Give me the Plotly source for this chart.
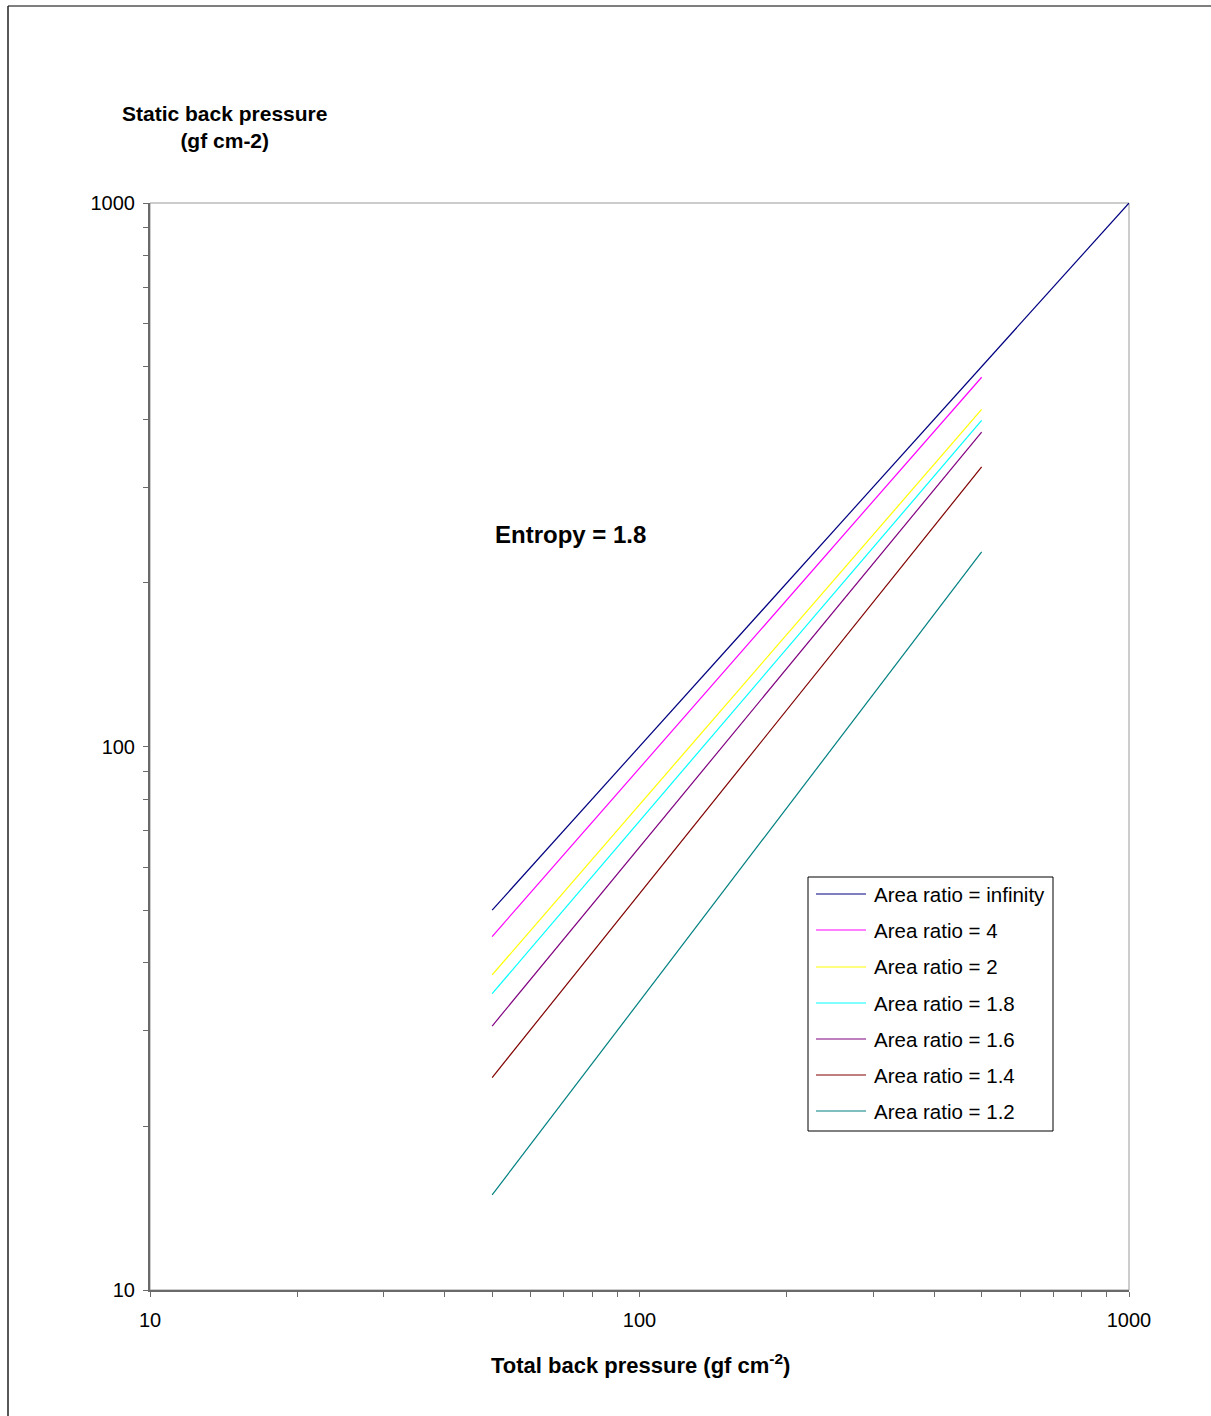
import plotly.graph_objects as go

# Data (log-log)
names = ["Area ratio = infinity", "Area ratio = 4", "Area ratio = 2", "Area ratio = 1.8",
         "Area ratio = 1.6", "Area ratio = 1.4", "Area ratio = 1.2"]
colors = ["#000080", "#FF00FF", "#FFFF00", "#00FFFF", "#800080", "#800000", "#008080"]
x_inf = [50, 1000]
y_inf = [50, 1000]
x_other = [50, 500]
y_4 = [44.7, 478]
y_2 = [38.0, 417]
y_18 = [35.1, 398]
y_16 = [30.6, 379]
y_14 = [24.6, 327]
y_12 = [14.96, 228]

xs = [x_inf, x_other, x_other, x_other, x_other, x_other, x_other]
ys = [y_inf, y_4, y_2, y_18, y_16, y_14, y_12]

tick_vals = [10, 20, 30, 40, 50, 60, 70, 80, 90, 100, 200, 300, 400, 500, 600, 700, 800, 900, 1000]
tick_text = ["10" if v == 10 else "100" if v == 100 else "1000" if v == 1000 else "" for v in tick_vals]

FONT = "Liberation Sans, Arial, sans-serif"
W, H = 1211, 1416
L, R, T, B = 150, 82, 203, 126
PW, PH = W - L - R, H - T - B


def px(xpix):
    return (xpix - L) / PW


def py(ypix):
    return (H - B - ypix) / PH


fig = go.Figure()
for i, (n, c, x, y) in enumerate(zip(names, colors, xs, ys)):
    fig.add_trace(go.Scatter(x=x, y=y, mode="lines", name=n, showlegend=False,
                             line=dict(color=c, width=1.2)))

axis_common = dict(type="log", showgrid=False, zeroline=False, showline=True, mirror=False,
                   linecolor="#6a6a6a", linewidth=2, ticks="outside", ticklen=5,
                   tickcolor="#6a6a6a", tickwidth=1, tickvals=tick_vals, ticktext=tick_text,
                   tickfont=dict(family=FONT, size=20, color="black"))

fig.update_xaxes(range=[1, 3], ticklabelstandoff=6, **axis_common)
fig.update_yaxes(range=[1, 3], ticklabelstandoff=4, **axis_common)

shapes = [
    # plot border (top / right)
    dict(type="rect", xref="paper", yref="paper", x0=0, x1=1, y0=0, y1=1,
         line=dict(color="#9a9a9a", width=1), layer="below"),
    # outer chart frame
    dict(type="line", xref="paper", yref="paper", x0=px(8), x1=px(1215), y0=py(6), y1=py(6),
         line=dict(color="#555555", width=1.5)),
    dict(type="line", xref="paper", yref="paper", x0=px(8), x1=px(8), y0=py(6), y1=py(1420),
         line=dict(color="#222222", width=1.5)),
    # legend box
    dict(type="rect", xref="paper", yref="paper", x0=px(808), x1=px(1053), y0=py(877), y1=py(1131),
         line=dict(color="black", width=1), fillcolor="white", layer="above"),
]

annotations = [
    dict(text="<b>Static back pressure</b><br><b>(gf cm-2)</b>", xref="paper", yref="paper",
         x=px(224), y=py(127), xanchor="center", yanchor="middle", showarrow=False, align="center",
         font=dict(family=FONT, size=21, color="black")),
    dict(text="<b>Total back pressure (gf cm<sup>-2</sup>)</b>", xref="paper", yref="paper",
         x=px(640), y=py(1364), xanchor="center", yanchor="middle", showarrow=False, align="center",
         font=dict(family=FONT, size=22, color="black")),
    dict(text="<b>Entropy = 1.8</b>", xref="paper", yref="paper", x=px(493), y=py(534),
         xanchor="left", yanchor="middle", showarrow=False,
         font=dict(family=FONT, size=24, color="black")),
]

# manual legend entries
leg_y = [894, 930, 967, 1003, 1039, 1075, 1111]
for n, c, yy in zip(names, colors, leg_y):
    shapes.append(dict(type="line", xref="paper", yref="paper", x0=px(816), x1=px(866),
                       y0=py(yy), y1=py(yy), line=dict(color=c, width=1.2), layer="above"))
    annotations.append(dict(text=n, xref="paper", yref="paper", x=px(872), y=py(yy),
                            xanchor="left", yanchor="middle", showarrow=False,
                            font=dict(family=FONT, size=20.5, color="black")))

fig.update_layout(
    width=W, height=H,
    margin=dict(l=L, r=R, t=T, b=B),
    paper_bgcolor="white", plot_bgcolor="white",
    font=dict(family=FONT, size=20, color="black"),
    showlegend=False,
    shapes=shapes,
    annotations=annotations,
)

fig.write_html("out.html", config={"displayModeBar": False},
               post_script="document.body.style.margin='0';document.body.style.overflow='hidden';")
